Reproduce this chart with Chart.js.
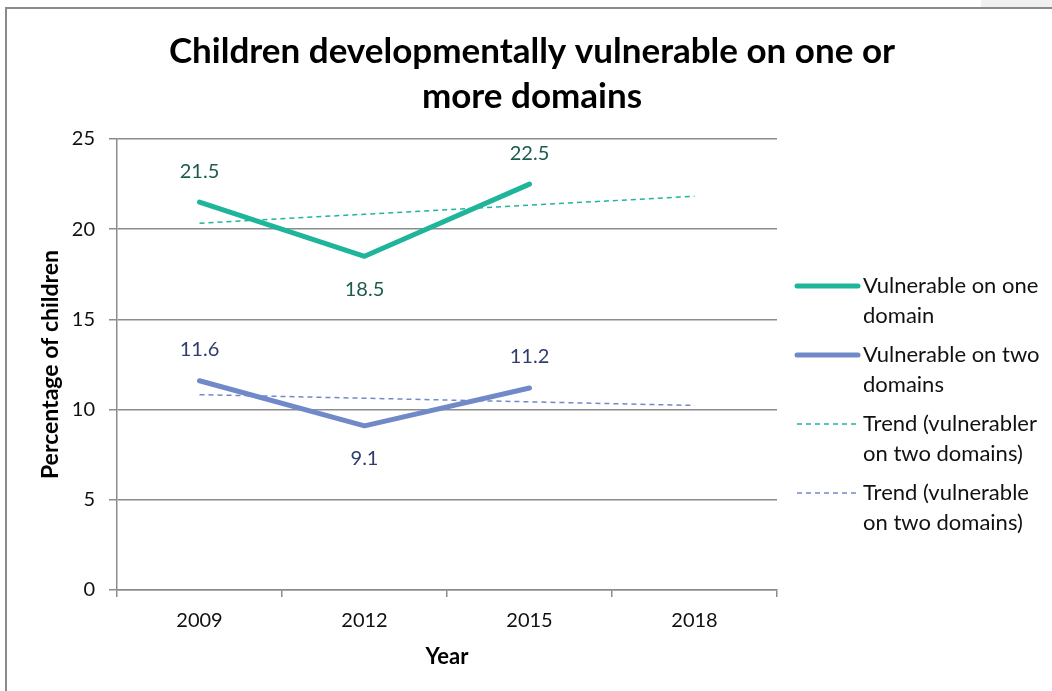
<!DOCTYPE html>
<html>
<head>
<meta charset="utf-8">
<script src="https://cdn.jsdelivr.net/npm/chart.js@4.4.1/dist/chart.umd.min.js"></script>
<style>
  html, body { margin: 0; padding: 0; background: #ffffff; }
  #wrap { width: 1052px; height: 691px; }
</style>
</head>
<body>
<div id="wrap"><canvas id="c" width="1052" height="691"></canvas></div>
<script>
// Survey years and percentages of children developmentally vulnerable
const years = ['2009', '2012', '2015', '2018'];
const vulnerableOne = [21.5, 18.5, 22.5, null];
const vulnerableTwo = [11.6, 9.1, 11.2, null];
const trendOne = [20.33, 20.83, 21.33, 21.83];
const trendTwo = [10.83, 10.63, 10.43, 10.23];
const yTicks = [0, 5, 10, 15, 20, 25];

const titleLines = ['Children developmentally vulnerable on one or', 'more domains'];
const seriesNames = [
  ['Vulnerable on one', 'domain'],
  ['Vulnerable on two', 'domains'],
  ['Trend (vulnerabler', 'on two domains)'],
  ['Trend (vulnerable', 'on two domains)']
];

const FONT = 'Lato, "Open Sans", sans-serif';
const GREEN = '#1fb59a';
const BLUE = '#7189c8';
const GREEN_TEXT = '#1c5b4f';
const BLUE_TEXT = '#2e3d6d';
const GRID = '#8c8c8c';

// Outer frame of the chart object
const framePlugin = {
  id: 'frame',
  beforeDraw(chart) {
    const ctx = chart.ctx;
    ctx.save();
    ctx.fillStyle = '#ffffff';
    ctx.fillRect(0, 0, chart.width, chart.height);
    ctx.fillStyle = '#f0f0f0';
    ctx.fillRect(981, 0, chart.width - 981, 7);
    ctx.strokeStyle = '#8a8a8a';
    ctx.lineWidth = 2;
    ctx.beginPath();
    ctx.moveTo(6, chart.height);
    ctx.lineTo(6, 8);
    ctx.lineTo(chart.width, 8);
    ctx.stroke();
    ctx.restore();
  }
};

// Two-line bold title, centred over the whole chart object
const titlePlugin = {
  id: 'bigTitle',
  afterDraw(chart) {
    const ctx = chart.ctx;
    ctx.save();
    ctx.font = 'bold 35px ' + FONT;
    ctx.fillStyle = '#000000';
    ctx.textAlign = 'center';
    ctx.textBaseline = 'middle';
    titleLines.forEach((t, i) => ctx.fillText(t, 532, 52 + i * 45));
    ctx.restore();
  }
};

// Value labels above / below the points of the two main series
const valueLabelPlugin = {
  id: 'valueLabels',
  afterDatasetsDraw(chart) {
    const ctx = chart.ctx;
    ctx.save();
    ctx.font = '20px ' + FONT;
    ctx.textAlign = 'center';
    ctx.textBaseline = 'middle';
    [0, 1].forEach(di => {
      const ds = chart.data.datasets[di];
      const meta = chart.getDatasetMeta(di);
      ds.data.forEach((v, i) => {
        if (v === null) return;
        const pt = meta.data[i];
        const prev = i > 0 ? ds.data[i - 1] : null;
        const next = i < ds.data.length - 1 ? ds.data[i + 1] : null;
        const isLow = (prev !== null && prev > v) && (next !== null && next > v);
        const dy = isLow ? 33 : -31;
        ctx.fillStyle = ds.labelColor;
        ctx.fillText(v.toFixed(1), pt.x, pt.y + dy);
      });
    });
    ctx.restore();
  }
};

// Legend on the right with wrapped entry names
const sideLegendPlugin = {
  id: 'sideLegend',
  afterDraw(chart) {
    const ctx = chart.ctx;
    const area = chart.chartArea;
    const x0 = area.right + 20;
    const lineLen = 61;
    const top = area.top + 147;
    const step = 69;
    ctx.save();
    ctx.font = '22px ' + FONT;
    ctx.textBaseline = 'middle';
    ctx.textAlign = 'left';
    chart.data.datasets.forEach((ds, i) => {
      const y = top + i * step;
      const dashed = ds.borderDash && ds.borderDash.length;
      ctx.strokeStyle = ds.borderColor;
      ctx.lineWidth = dashed ? 1.5 : 5;
      ctx.lineCap = dashed ? 'butt' : 'round';
      ctx.setLineDash(ds.borderDash || []);
      ctx.beginPath();
      ctx.moveTo(x0, y);
      ctx.lineTo(x0 + lineLen, y);
      ctx.stroke();
      ctx.setLineDash([]);
      ctx.fillStyle = '#111111';
      seriesNames[i].forEach((t, k) => {
        ctx.fillText(t, x0 + lineLen + 5, y + k * 30);
      });
    });
    ctx.restore();
  }
};

new Chart(document.getElementById('c'), {
  type: 'line',
  data: {
    labels: years,
    datasets: [
      {
        label: seriesNames[0].join(' '),
        data: vulnerableOne,
        borderColor: GREEN,
        backgroundColor: GREEN,
        borderWidth: 5,
        borderCapStyle: 'round',
        borderJoinStyle: 'round',
        pointRadius: 0,
        labelColor: GREEN_TEXT,
        spanGaps: false
      },
      {
        label: seriesNames[1].join(' '),
        data: vulnerableTwo,
        borderColor: BLUE,
        backgroundColor: BLUE,
        borderWidth: 5,
        borderCapStyle: 'round',
        borderJoinStyle: 'round',
        pointRadius: 0,
        labelColor: BLUE_TEXT,
        spanGaps: false
      },
      {
        label: seriesNames[2].join(' '),
        data: trendOne,
        borderColor: GREEN,
        borderWidth: 1.5,
        borderDash: [5, 4],
        pointRadius: 0
      },
      {
        label: seriesNames[3].join(' '),
        data: trendTwo,
        borderColor: BLUE,
        borderWidth: 1.5,
        borderDash: [5, 4],
        pointRadius: 0
      }
    ]
  },
  options: {
    responsive: false,
    animation: false,
    layout: { padding: { left: 30, right: 275, top: 139, bottom: 21 } },
    plugins: {
      legend: { display: false },
      tooltip: { enabled: false },
      title: { display: false }
    },
    scales: {
      x: {
        offset: true,
        grid: { offset: true, drawOnChartArea: false, drawTicks: true, tickLength: 7, color: GRID, lineWidth: 1.5 },
        border: { display: true, color: GRID, width: 1.5 },
        ticks: { color: '#111111', font: { family: FONT, size: 20 }, padding: 12 },
        title: { display: true, text: 'Year', color: '#000000', font: { family: FONT, size: 22, weight: 'bold' }, padding: { top: 0, bottom: 0 } },
        afterFit(scale) { scale.height = 80; }
      },
      y: {
        min: 0,
        max: 25,
        afterBuildTicks(scale) { scale.ticks = yTicks.map(v => ({ value: v })); },
        grid: { color: GRID, lineWidth: 1.5, tickLength: 8 },
        border: { display: true, color: GRID, width: 1.5 },
        ticks: { color: '#111111', font: { family: FONT, size: 20 }, padding: 14 },
        title: { display: true, text: 'Percentage of children', color: '#000000', font: { family: FONT, size: 23, weight: 'bold' }, padding: { top: 7, bottom: 0 } },
        afterFit(scale) { scale.width = 87; }
      }
    }
  },
  plugins: [framePlugin, titlePlugin, valueLabelPlugin, sideLegendPlugin]
});
</script>
</body>
</html>
